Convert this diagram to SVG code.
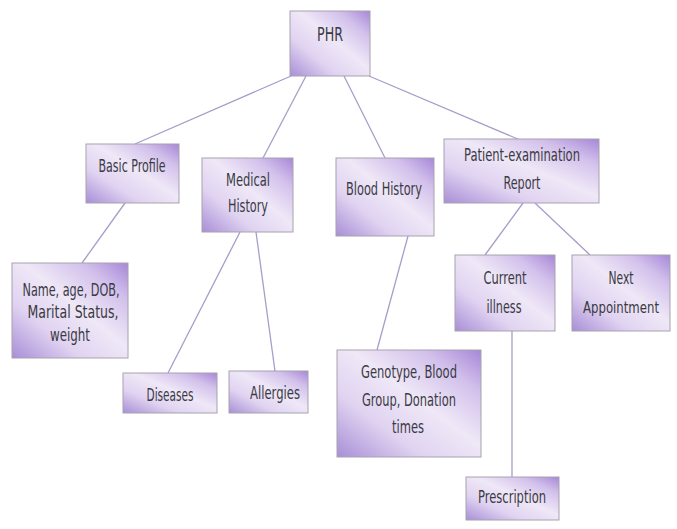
<svg xmlns="http://www.w3.org/2000/svg" width="677" height="529" viewBox="0 0 677 529">
<defs>
<linearGradient id="g" x1="0" y1="1" x2="1" y2="0">
<stop offset="0" stop-color="#a88ed6"/>
<stop offset="0.3" stop-color="#e0d3f1"/>
<stop offset="0.55" stop-color="#efe8f7"/>
<stop offset="0.8" stop-color="#d2c0eb"/>
<stop offset="1" stop-color="#a687d7"/>
</linearGradient>
<style>
.box{fill:url(#g);stroke:#a7a2ae;stroke-width:1}
.t{font-family:"DejaVu Sans Condensed","Liberation Sans",sans-serif;font-size:18px;fill:#3a3a44;text-anchor:middle}
.c line{stroke:#a99cc9;stroke-width:1.3}
</style>
</defs>
<rect width="677" height="529" fill="#ffffff"/>
<g class="c">
<line x1="291" y1="76" x2="135" y2="144"/>
<line x1="306" y1="76" x2="263" y2="158"/>
<line x1="344" y1="76" x2="385" y2="158"/>
<line x1="369" y1="76" x2="520" y2="140"/>
<line x1="125" y1="203" x2="82" y2="263"/>
<line x1="240" y1="232" x2="168" y2="373"/>
<line x1="256" y1="232" x2="275" y2="371"/>
<line x1="408" y1="236" x2="377" y2="350"/>
<line x1="523" y1="203" x2="485" y2="255"/>
<line x1="535" y1="203" x2="590" y2="255"/>
<line x1="512" y1="331" x2="512" y2="477"/>
</g>
<g id="phr"><rect class="box" x="290" y="11" width="80" height="65"/><text class="t" x="330" y="41" style="font-size:19px" textLength="26" lengthAdjust="spacingAndGlyphs">PHR</text></g>
<g id="basic"><rect class="box" x="86" y="144" width="93" height="59"/><text class="t" x="132" y="172" textLength="67" lengthAdjust="spacingAndGlyphs">Basic Profile</text></g>
<g id="medical"><rect class="box" x="202" y="158" width="91" height="74"/><text class="t" x="248" y="186" textLength="44" lengthAdjust="spacingAndGlyphs">Medical</text><text class="t" x="248" y="212" textLength="40" lengthAdjust="spacingAndGlyphs">History</text></g>
<g id="blood"><rect class="box" x="336" y="158" width="98" height="78"/><text class="t" x="384" y="195" textLength="76" lengthAdjust="spacingAndGlyphs">Blood History</text></g>
<g id="patient"><rect class="box" x="444" y="139" width="155" height="64"/><text class="t" x="522" y="161" textLength="116" lengthAdjust="spacingAndGlyphs">Patient-examination</text><text class="t" x="522" y="189" textLength="37" lengthAdjust="spacingAndGlyphs">Report</text></g>
<g id="name"><rect class="box" x="12" y="263" width="116" height="95"/><text class="t" x="71" y="296" textLength="97" lengthAdjust="spacingAndGlyphs">Name, age, DOB,</text><text class="t" x="73" y="318" textLength="91" lengthAdjust="spacingAndGlyphs">Marital Status,</text><text class="t" x="70" y="341" textLength="40" lengthAdjust="spacingAndGlyphs">weight</text></g>
<g id="current"><rect class="box" x="455" y="255" width="100" height="76"/><text class="t" x="505" y="284" textLength="43" lengthAdjust="spacingAndGlyphs">Current</text><text class="t" x="504" y="313" textLength="35" lengthAdjust="spacingAndGlyphs">illness</text></g>
<g id="next"><rect class="box" x="572" y="255" width="98" height="76"/><text class="t" x="621" y="284" textLength="25" lengthAdjust="spacingAndGlyphs">Next</text><text class="t" x="621" y="313" style="font-size:15px" textLength="76" lengthAdjust="spacingAndGlyphs">Appointment</text></g>
<g id="diseases"><rect class="box" x="123" y="373" width="94" height="40"/><text class="t" x="170" y="401" textLength="47" lengthAdjust="spacingAndGlyphs">Diseases</text></g>
<g id="allergies"><rect class="box" x="229" y="371" width="79" height="42"/><text class="t" x="275" y="399" textLength="50" lengthAdjust="spacingAndGlyphs">Allergies</text></g>
<g id="genotype"><rect class="box" x="337" y="350" width="144" height="107"/><text class="t" x="409" y="378" textLength="96" lengthAdjust="spacingAndGlyphs">Genotype, Blood</text><text class="t" x="409" y="406" textLength="94" lengthAdjust="spacingAndGlyphs">Group, Donation</text><text class="t" x="408" y="433" textLength="32" lengthAdjust="spacingAndGlyphs">times</text></g>
<g id="prescription"><rect class="box" x="466" y="477" width="93" height="43"/><text class="t" x="512" y="503" textLength="68" lengthAdjust="spacingAndGlyphs">Prescription</text></g>
</svg>
